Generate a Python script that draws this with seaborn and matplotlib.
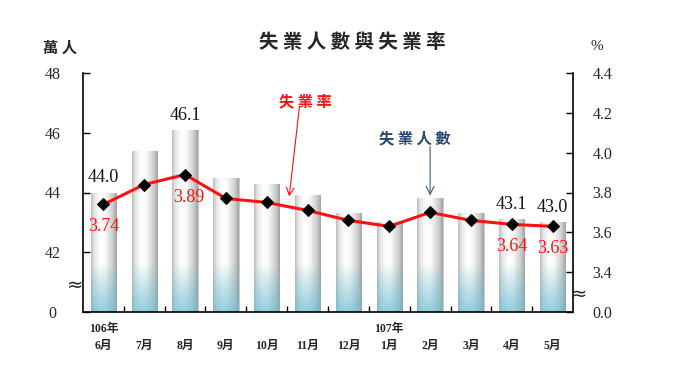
import numpy as np
import pandas as pd
import matplotlib
matplotlib.use("Agg")
import matplotlib.pyplot as plt
import seaborn as sns
from matplotlib.colors import to_rgb

# ---- data ----
months = ["6月", "7月", "8月", "9月", "10月", "11月", "12月", "1月", "2月", "3月", "4月", "5月"]
year_marks = ["106年", "", "", "", "", "", "", "107年", "", "", "", ""]
unemployed = [44.0, 45.4, 46.1, 44.5, 44.3, 43.9, 43.3, 43.0, 43.8, 43.3, 43.1, 43.0]   # 萬人
rate = [3.74, 3.84, 3.89, 3.77, 3.75, 3.71, 3.66, 3.63, 3.70, 3.66, 3.64, 3.63]          # %
labelled = [0, 2, 10, 11]
left_ticks = [40, 42, 44, 46, 48]
left_ticklabels = ["0", "42", "44", "46", "48"]
right_ticks = [3.2, 3.4, 3.6, 3.8, 4.0, 4.2, 4.4]
right_ticklabels = ["0.0", "3.4", "3.6", "3.8", "4.0", "4.2", "4.4"]

sns.set_theme(style="white")
plt.rcParams["font.family"] = ["Liberation Serif", "Noto Sans CJK TC", "DejaVu Sans"]
CJK = ["Noto Sans CJK TC", "DejaVu Sans"]

xlabels = [(y + "\n" + m) for y, m in zip(year_marks, months)]
df = pd.DataFrame({"month": xlabels, "unemployed": unemployed, "rate": rate})

fig = plt.figure(figsize=(6.8, 3.82), dpi=100)
ax = fig.add_axes([83 / 680, 1 - 312 / 382, 490 / 680, 239 / 382])

sns.barplot(data=df, x="month", y="unemployed", ax=ax, color="white",
            width=0.62, edgecolor="#c0c0c0", linewidth=0.6, bottom=0)
ax.set_ylim(40, 48)
ax.set_xlim(-0.5, len(months) - 0.5)

# cylinder-like gradient fill clipped to bars
W, H = 60, 240
xs = np.linspace(0, 1, W)
prof = np.interp(xs, [0, 0.12, 0.35, 0.55, 0.85, 1.0], [0.74, 0.9, 1.0, 0.98, 0.8, 0.64])
ys = np.linspace(40, 48, H)
blend = np.clip((41.6 - ys) / 1.6, 0, 1) ** 0.9
blue = np.array(to_rgb("#8cc6d4"))
img = np.zeros((H, W, 4))
for c in range(3):
    gray = prof[None, :] * 1.0
    tinted = blue[c] * (0.6 + 0.45 * prof[None, :])
    img[:, :, c] = np.clip(gray * (1 - blend[:, None]) + tinted * blend[:, None], 0, 1)
img[:, :, 3] = 1
for p in ax.patches:
    x0 = p.get_x()
    x1 = x0 + p.get_width()
    im = ax.imshow(img, extent=(x0, x1, 40, 48), origin="lower", aspect="auto", zorder=2)
    im.set_clip_path(p)
ax.set_ylim(40, 48)
ax.set_xlim(-0.5, len(months) - 0.5)

ax.set_yticks(left_ticks)
ax.set_yticklabels(left_ticklabels, fontsize=11.5)
ax.set_xlabel("")
ax.set_ylabel("")
ax.set_xticks(range(len(months)))
ax.set_xticklabels(xlabels, fontsize=8.5, fontweight="bold", linespacing=1.5)
ax.tick_params(axis="x", length=0, pad=8)
ax.set_xticks(np.arange(0.5, len(months) - 1, 1), minor=True)
ax.tick_params(axis="x", which="minor", direction="in", length=4, width=1, color="black", bottom=True)
ax.tick_params(axis="y", direction="in", length=5, width=1, color="black", left=True, pad=22)
for lab in ax.get_yticklabels():
    lab.set_horizontalalignment("center")
for s in ["top", "right"]:
    ax.spines[s].set_visible(False)
for s in ["left", "bottom"]:
    ax.spines[s].set_color("black")
    ax.spines[s].set_linewidth(1.2)

# bar value labels
for i in labelled:
    ax.annotate(f"{unemployed[i]:.1f}", (i, unemployed[i]), xytext=(0, 6),
                textcoords="offset pixels", ha="center", va="bottom",
                fontsize=13, color="#111111", zorder=5)

# rate line
ax2 = ax.twinx()
sns.lineplot(data=df, x="month", y="rate", ax=ax2, color="#ff1010", linewidth=2.2,
             marker="D", markersize=6.5, markerfacecolor="black", markeredgecolor="black",
             sort=False)
ax2.set_ylim(3.2, 4.4)
ax2.set_xlim(-0.5, len(months) - 0.5)
ax2.set_yticks(right_ticks)
ax2.set_yticklabels(right_ticklabels, fontsize=11.5)
ax2.set_ylabel("")
ax2.set_xlabel("")
ax2.tick_params(axis="y", direction="in", length=5, width=1, color="black", right=True, pad=14)
for s in ["top", "left", "bottom"]:
    ax2.spines[s].set_visible(False)
ax2.spines["right"].set_color("black")
ax2.spines["right"].set_linewidth(1.2)

for i in labelled:
    dx = 4 if i == 2 else 0
    ax2.annotate(f"{rate[i]:.2f}", (i, rate[i]), xytext=(dx, -14),
                 textcoords="offset pixels", ha="center", va="top",
                 fontsize=13, color="#ff1010", zorder=5)

# callouts
ax2.text(4.94, 4.26, "失 業 率", ha="center", va="center",
         fontsize=11, fontweight="bold", color="#ff1010", family=CJK)
ax2.annotate("", xy=(4.55, 3.78), xytext=(4.80, 4.23),
             arrowprops=dict(arrowstyle="->", color="#ff1010", lw=0.8, shrinkA=0, shrinkB=0,
                             mutation_scale=14))
ax2.text(7.63, 4.07, "失 業 人 數", ha="center", va="center",
         fontsize=11, fontweight="bold", color="#26466d", family=CJK)
ax2.annotate("", xy=(8.0, 3.785), xytext=(8.0, 4.03),
             arrowprops=dict(arrowstyle="->", color="#3a5a80", lw=0.8, shrinkA=0, shrinkB=0,
                             mutation_scale=14))

# axis break marks
ax.text(-0.016, 0.11, "≈", transform=ax.transAxes, ha="center", va="center", fontsize=14,
        family=["DejaVu Sans"])
ax2.text(1.012, 0.075, "≈", transform=ax2.transAxes, ha="center", va="center", fontsize=14,
         family=["DejaVu Sans"])

# titles and units
fig.text(352 / 680, 1 - 42 / 382, "失 業 人 數 與 失 業 率", ha="center", va="center",
         fontsize=14, fontweight="bold", family=CJK)
fig.text(60 / 680, 1 - 48 / 382, "萬 人", ha="center", va="center", fontsize=11,
         fontweight="bold", family=CJK)
fig.text(597 / 680, 1 - 47 / 382, "%", ha="center", va="center", fontsize=11)

fig.savefig("out.png", dpi=100)
